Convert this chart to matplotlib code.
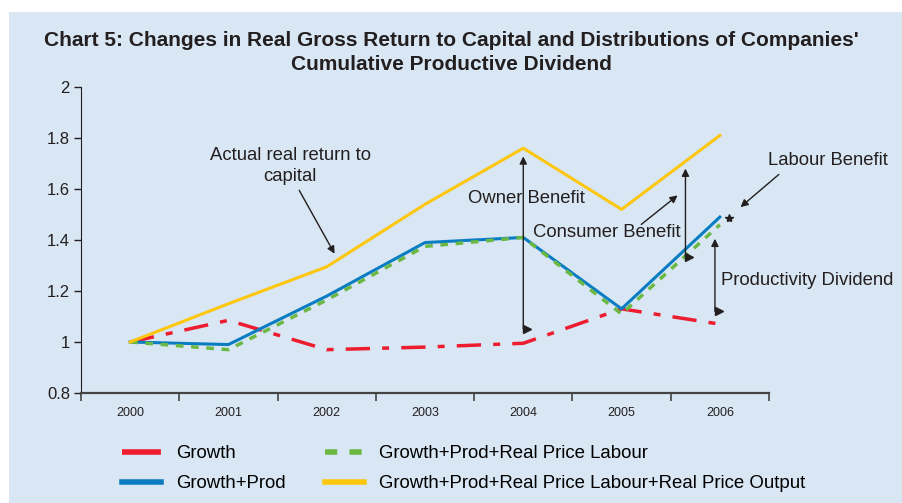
import matplotlib.pyplot as plt
from matplotlib.patches import Rectangle

years = ['2000', '2001', '2002', '2003', '2004', '2005', '2006']
growth = [1.00, 1.085, 0.97, 0.98, 0.995, 1.13, 1.07]
growth_prod = [1.00, 0.99, 1.18, 1.39, 1.41, 1.13, 1.49]
growth_prod_labour = [1.00, 0.97, 1.165, 1.375, 1.41, 1.11, 1.46]
growth_prod_labour_output = [1.00, 1.15, 1.295, 1.54, 1.76, 1.52, 1.81]
yticks = [0.8, 1.0, 1.2, 1.4, 1.6, 1.8, 2.0]
ylabels = ['0.8', '1', '1.2', '1.4', '1.6', '1.8', '2']

bg = '#d9e6f3'
dark = '#231f20'
font = 'Liberation Sans'

fig = plt.figure(figsize=(9.03, 5.03), dpi=100)
fig.patch.set_facecolor('white')
fig.patches.append(Rectangle((9 / 903, 0), 1, 1 - 12 / 503, transform=fig.transFigure,
                             facecolor=bg, edgecolor='none', zorder=-10))

ax = fig.add_axes([81 / 903, 1 - 393 / 503, (769 - 81) / 903, (393 - 87) / 503])
ax.set_facecolor('none')
x = range(len(years))

l1, = ax.plot(x, growth, color='#ed1c2e', lw=2.5, dashes=(7, 3.5, 2, 3.5), label='Growth')
l2, = ax.plot(x, growth_prod, color='#0a7dc2', lw=2.2, label='Growth+Prod')
l3, = ax.plot(x, growth_prod_labour, color='#6cb844', lw=2.5, dashes=(2.2, 2.2),
              label='Growth+Prod+Real Price Labour')
l4, = ax.plot(x, growth_prod_labour_output, color='#fdc70f', lw=2.2,
              label='Growth+Prod+Real Price Labour+Real Price Output')

ax.set_xlim(-0.5, 6.5)
ax.set_ylim(0.8, 2.0)
ax.set_yticks(yticks)
ax.set_yticklabels(ylabels, fontsize=12, family=font)
ax.set_xticks(list(x))
ax.set_xticklabels(years, fontsize=9, family=font)
ax.set_xticks([i - 0.5 for i in range(len(years) + 1)], minor=True)
ax.tick_params(axis='x', which='major', length=0, pad=10, colors=dark)
ax.tick_params(axis='x', which='minor', length=6, width=1.2, direction='out', color='#444')
ax.tick_params(axis='y', length=5, width=1, direction='out', pad=3, colors=dark)
for s in ['top', 'right']:
    ax.spines[s].set_visible(False)
ax.spines['left'].set_color(dark)
ax.spines['bottom'].set_color('#444')
ax.spines['bottom'].set_linewidth(1.6)

tkw = dict(fontsize=13.3, family=font, color=dark, ha='center', va='center')
akw = dict(arrowstyle='-|>', color=dark, lw=1, mutation_scale=11, shrinkA=0, shrinkB=0)


def up_arrow(xv, y0, y1):
    # vertical arrow, head up top, small right-pointing head at the bottom
    ax.annotate('', xy=(xv, y1), xytext=(xv, y0), arrowprops=akw)
    ax.plot([xv + 0.04], [y0], marker='>', ms=5.5, color=dark, mec=dark)


ax.text(1.63, 1.69, 'Actual real return to\ncapital', linespacing=1.3, **tkw)
ax.annotate('', xy=(2.08, 1.346), xytext=(1.72, 1.595), arrowprops=akw)

up_arrow(4.0, 1.052, 1.728)
ax.text(4.03, 1.562, 'Owner Benefit', **tkw)

ax.text(4.85, 1.43, 'Consumer Benefit', **tkw)
ax.annotate('', xy=(5.57, 1.575), xytext=(5.20, 1.461), arrowprops=akw)
up_arrow(5.65, 1.333, 1.68)

up_arrow(5.95, 1.12, 1.405)
ax.text(6.89, 1.242, 'Productivity Dividend', clip_on=False, **tkw)

ax.text(7.1, 1.712, 'Labour Benefit', clip_on=False, **tkw)
ax.annotate('', xy=(6.21, 1.529), xytext=(6.60, 1.657), arrowprops=akw,
            annotation_clip=False)
ax.plot([6.09], [1.486], marker='*', color=dark, ms=6, clip_on=False)

fig.text(0.5, 1 - 40 / 503, "Chart 5: Changes in Real Gross Return to Capital and Distributions of Companies'",
         ha='center', va='center', fontsize=15, fontweight='bold', family=font, color=dark)
fig.text(0.5, 1 - 64 / 503, 'Cumulative Productive Dividend',
         ha='center', va='center', fontsize=15, fontweight='bold', family=font, color=dark)

lkw = dict(loc='upper left', frameon=False, handlelength=2.1, handletextpad=0.8,
           labelspacing=0.7, borderpad=0, borderaxespad=0, prop=dict(family=font, size=13.4))
leg1 = fig.legend([l1, l2], [l1.get_label(), l2.get_label()],
                  bbox_to_anchor=(122 / 903, 1 - 445 / 503), **lkw)
leg2 = fig.legend([l3, l4], [l3.get_label(), l4.get_label()],
                  bbox_to_anchor=(325 / 903, 1 - 445 / 503), **lkw)
for leg in (leg1, leg2):
    for line in leg.get_lines():
        line.set_linewidth(4)

fig.savefig('out.png', dpi=100)
